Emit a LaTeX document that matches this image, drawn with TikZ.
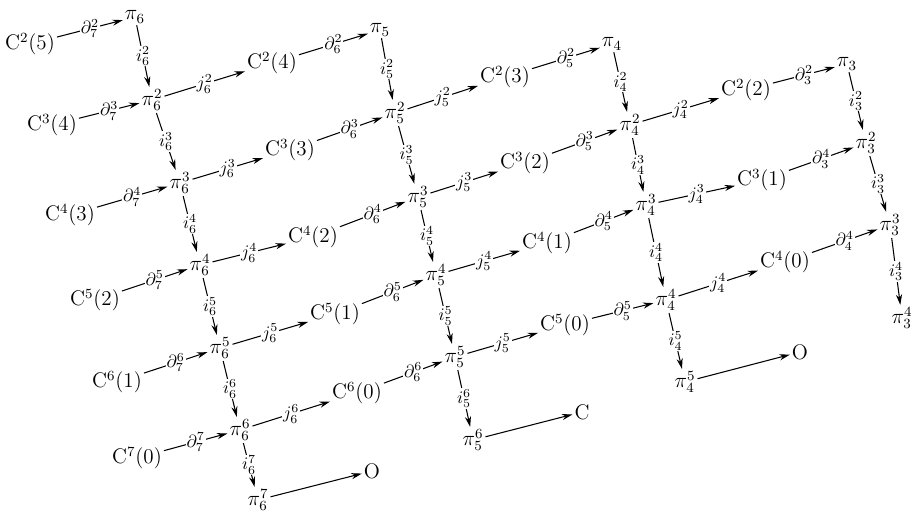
\documentclass[tikz,border=0pt]{standalone}
\usetikzlibrary{arrows.meta}
\begin{document}
\begin{tikzpicture}[x=0.02cm,y=-0.02cm,
  every node/.style={font=\large, inner sep=1pt},
  lbl/.style={fill=white, inner sep=0.5pt, font=\normalsize},
  arr/.style={-{Stealth[length=6pt,width=3.5pt]}, line width=0.6pt}]
\useasboundingbox (0,0) rectangle (916,516);

% row 2
\node (c25) at (30,44) {$\mathrm{C}^2(5)$};
\node (pi6) at (135,17) {$\pi_6$};
\node (pi62) at (152,100) {$\pi_6^2$};
\node (c24) at (272,63) {$\mathrm{C}^2(4)$};
\node (pi5) at (380,30) {$\pi_5$};
\node (pi52) at (395,113) {$\pi_5^2$};
\node (c23) at (505,77) {$\mathrm{C}^2(3)$};
\node (pi4) at (612,44) {$\pi_4$};
\node (pi42) at (630,125) {$\pi_4^2$};
\node (c22) at (746,90) {$\mathrm{C}^2(2)$};
\node (pi3) at (847,64) {$\pi_3$};
\node (pi32) at (866,143) {$\pi_3^2$};

% row 3
\node (c34) at (52,125) {$\mathrm{C}^3(4)$};
\node (pi63) at (180,183) {$\pi_6^3$};
\node (c33) at (290,150) {$\mathrm{C}^3(3)$};
\node (pi53) at (418,197) {$\pi_5^3$};
\node (c32) at (525,163) {$\mathrm{C}^3(2)$};
\node (pi43) at (646,205) {$\pi_4^3$};
\node (c31) at (762,180) {$\mathrm{C}^3(1)$};
\node (pi33) at (890,225) {$\pi_3^3$};

% row 4
\node (c43) at (70,215) {$\mathrm{C}^4(3)$};
\node (pi64) at (200,265) {$\pi_6^4$};
\node (c42) at (313,237) {$\mathrm{C}^4(2)$};
\node (pi54) at (436,275) {$\pi_5^4$};
\node (c41) at (547,243) {$\mathrm{C}^4(1)$};
\node (pi44) at (666,300) {$\pi_4^4$};
\node (c40) at (785,262) {$\mathrm{C}^4(0)$};
\node (pi34) at (902,318) {$\pi_3^4$};

% row 5
\node (c52) at (95,300) {$\mathrm{C}^5(2)$};
\node (pi65) at (220,348) {$\pi_6^5$};
\node (c51) at (335,314) {$\mathrm{C}^5(1)$};
\node (pi55) at (455,357) {$\pi_5^5$};
\node (c50) at (565,325) {$\mathrm{C}^5(0)$};
\node (pi45) at (685,382) {$\pi_4^5$};
\node (o4) at (800,352) {$\mathrm{O}$};

% row 6
\node (c61) at (117,382) {$\mathrm{C}^6(1)$};
\node (pi66) at (240,430) {$\pi_6^6$};
\node (c60) at (357,393) {$\mathrm{C}^6(0)$};
\node (pi56) at (473,440) {$\pi_5^6$};
\node (o5) at (582,412) {$\mathrm{C}$};

% row 7
\node (c70) at (137,458) {$\mathrm{C}^7(0)$};
\node (pi67) at (258,500) {$\pi_6^7$};
\node (o6) at (372,471) {$\mathrm{O}$};

% maps of row 2
\draw[arr] (c25) -- node[lbl] (d72) {$\partial_7^2$} (pi6);
\draw[arr] (pi6) -- node[lbl] (i62) {$i_6^2$} (pi62);
\draw[arr] (pi62) -- node[lbl] (j62) {$j_6^2$} (c24);
\draw[arr] (c24) -- node[lbl] (d62) {$\partial_6^2$} (pi5);
\draw[arr] (pi5) -- node[lbl] (i52) {$i_5^2$} (pi52);
\draw[arr] (pi52) -- node[lbl] (j52) {$j_5^2$} (c23);
\draw[arr] (c23) -- node[lbl] (d52) {$\partial_5^2$} (pi4);
\draw[arr] (pi4) -- node[lbl] (i42) {$i_4^2$} (pi42);
\draw[arr] (pi42) -- node[lbl] (j42) {$j_4^2$} (c22);
\draw[arr] (c22) -- node[lbl] (d32) {$\partial_3^2$} (pi3);
\draw[arr] (pi3) -- node[lbl] (i32) {$i_3^2$} (pi32);

% maps of row 3
\draw[arr] (c34) -- node[lbl] (d73) {$\partial_7^3$} (pi62);
\draw[arr] (pi62) -- node[lbl] (i63) {$i_6^3$} (pi63);
\draw[arr] (pi63) -- node[lbl] (j63) {$j_6^3$} (c33);
\draw[arr] (c33) -- node[lbl] (d63) {$\partial_6^3$} (pi52);
\draw[arr] (pi52) -- node[lbl] (i53) {$i_5^3$} (pi53);
\draw[arr] (pi53) -- node[lbl] (j53) {$j_5^3$} (c32);
\draw[arr] (c32) -- node[lbl] (d53) {$\partial_5^3$} (pi42);
\draw[arr] (pi42) -- node[lbl] (i43) {$i_4^3$} (pi43);
\draw[arr] (pi43) -- node[lbl] (j43) {$j_4^3$} (c31);
\draw[arr] (c31) -- node[lbl] (d34) {$\partial_3^4$} (pi32);
\draw[arr] (pi32) -- node[lbl] (i33) {$i_3^3$} (pi33);

% maps of row 4
\draw[arr] (c43) -- node[lbl] (d74) {$\partial_7^4$} (pi63);
\draw[arr] (pi63) -- node[lbl] (i64) {$i_6^4$} (pi64);
\draw[arr] (pi64) -- node[lbl] (j64) {$j_6^4$} (c42);
\draw[arr] (c42) -- node[lbl] (d64) {$\partial_6^4$} (pi53);
\draw[arr] (pi53) -- node[lbl] (i54) {$i_5^4$} (pi54);
\draw[arr] (pi54) -- node[lbl] (j54) {$j_5^4$} (c41);
\draw[arr] (c41) -- node[lbl] (d54) {$\partial_5^4$} (pi43);
\draw[arr] (pi43) -- node[lbl] (i44) {$i_4^4$} (pi44);
\draw[arr] (pi44) -- node[lbl] (j44) {$j_4^4$} (c40);
\draw[arr] (c40) -- node[lbl] (d44) {$\partial_4^4$} (pi33);
\draw[arr] (pi33) -- node[lbl] (i34) {$i_3^4$} (pi34);

% maps of row 5
\draw[arr] (c52) -- node[lbl] (d75) {$\partial_7^5$} (pi64);
\draw[arr] (pi64) -- node[lbl] (i65) {$i_6^5$} (pi65);
\draw[arr] (pi65) -- node[lbl] (j65) {$j_6^5$} (c51);
\draw[arr] (c51) -- node[lbl] (d65) {$\partial_6^5$} (pi54);
\draw[arr] (pi54) -- node[lbl] (i55) {$i_5^5$} (pi55);
\draw[arr] (pi55) -- node[lbl] (j55) {$j_5^5$} (c50);
\draw[arr] (c50) -- node[lbl] (d55) {$\partial_5^5$} (pi44);
\draw[arr] (pi44) -- node[lbl] (i45) {$i_4^5$} (pi45);
\draw[arr] (pi45) -- (o4);

% maps of row 6
\draw[arr] (c61) -- node[lbl] (d76) {$\partial_7^6$} (pi65);
\draw[arr] (pi65) -- node[lbl] (i66) {$i_6^6$} (pi66);
\draw[arr] (pi66) -- node[lbl] (j66) {$j_6^6$} (c60);
\draw[arr] (c60) -- node[lbl] (d66) {$\partial_6^6$} (pi55);
\draw[arr] (pi55) -- node[lbl] (i56) {$i_5^6$} (pi56);
\draw[arr] (pi56) -- (o5);

% maps of row 7
\draw[arr] (c70) -- node[lbl] (d77) {$\partial_7^7$} (pi66);
\draw[arr] (pi66) -- node[lbl] (i67) {$i_6^7$} (pi67);
\draw[arr] (pi67) -- (o6);
\end{tikzpicture}
\end{document}
